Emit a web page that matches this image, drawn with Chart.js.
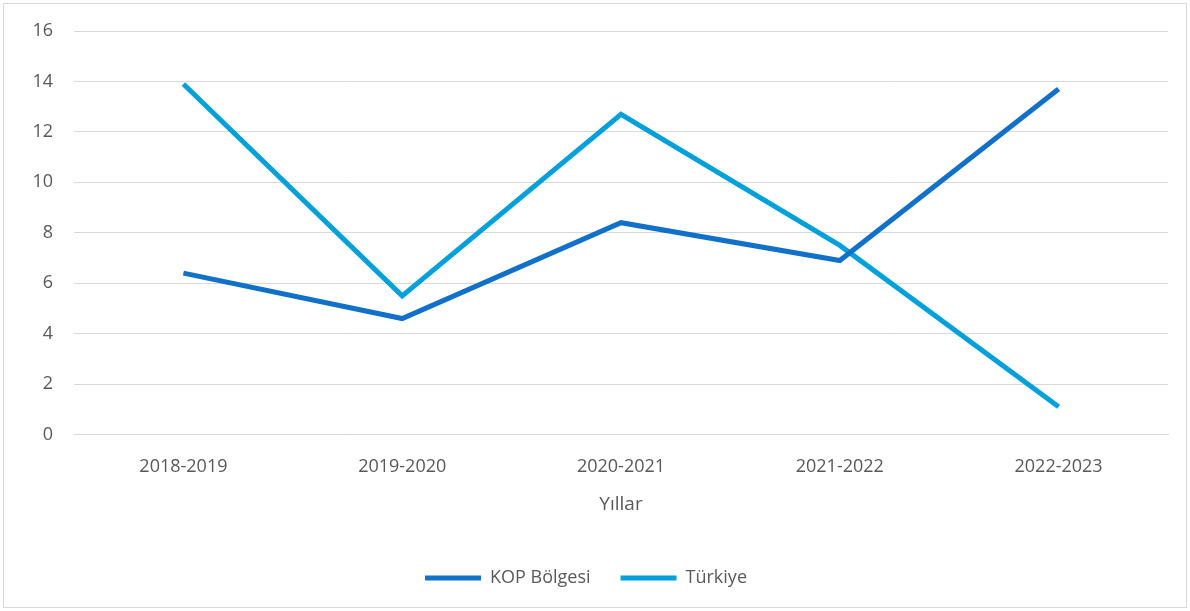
<!DOCTYPE html>
<html>
<head>
<meta charset="utf-8">
<script src="https://cdn.jsdelivr.net/npm/chart.js@4"></script>
<style>
  html, body { margin: 0; padding: 0; background: #fff; }
  #box {
    position: absolute; left: 3px; top: 3px;
    width: 1184px; height: 605px;
    border: 1px solid #d9d9d9; box-sizing: border-box;
  }
</style>
</head>
<body>
<div id="box"><canvas id="lineChart"></canvas></div>
<script>
// chart data
const years = ['2018-2019', '2019-2020', '2020-2021', '2021-2022', '2022-2023'];
const kopValues = [6.4, 4.6, 8.4, 6.9, 13.7];
const turkiyeValues = [13.9, 5.5, 12.7, 7.5, 1.1];
const yTicks = [0, 2, 4, 6, 8, 10, 12, 14, 16];

const textColor = '#595959';
const fontFamily = "'Open Sans', sans-serif";

const ctx = document.getElementById('lineChart').getContext('2d');
new Chart(ctx, {
    type: 'line',
    data: {
        labels: years,
        datasets: [{
            label: 'KOP Bölgesi',
            data: kopValues,
            borderColor: '#1170C8',
            backgroundColor: '#1170C8',
            borderWidth: 5,
            pointRadius: 0,
            tension: 0
        }, {
            label: 'Türkiye',
            data: turkiyeValues,
            borderColor: '#00A0DA',
            backgroundColor: '#00A0DA',
            borderWidth: 5,
            pointRadius: 0,
            tension: 0
        }]
    },
    options: {
        responsive: true,
        maintainAspectRatio: false,
        animation: false,
        layout: { padding: { top: 27, right: 18, bottom: 10, left: 0 } },
        plugins: {
            tooltip: { enabled: false },
            legend: {
                position: 'bottom',
                labels: {
                    color: textColor,
                    font: { family: fontFamily, size: 18 },
                    boxWidth: 56,
                    boxHeight: 5,
                    padding: 30,
                    generateLabels: chart => chart.data.datasets.map((ds, i) => ({
                        text: ds.label,
                        fillStyle: ds.borderColor,
                        strokeStyle: ds.borderColor,
                        lineWidth: 0,
                        fontColor: textColor,
                        datasetIndex: i
                    }))
                }
            }
        },
        scales: {
            x: {
                offset: true,
                grid: { display: false, drawTicks: false },
                border: { display: true, color: '#d9d9d9', width: 1 },
                ticks: {
                    color: textColor,
                    font: { family: fontFamily, size: 18 },
                    padding: 21
                },
                title: {
                    display: true,
                    text: 'Yıllar',
                    color: textColor,
                    font: { family: fontFamily, size: 19 },
                    padding: { top: -5, bottom: 23 }
                }
            },
            y: {
                min: 0,
                max: 16,
                afterBuildTicks: axis => { axis.ticks = yTicks.map(v => ({ value: v })); },
                afterFit: axis => {
                    axis.width = 70;
                    axis.paddingTop = 20; // keep tick padding from pushing the plot down
                },
                grid: { color: '#d9d9d9', lineWidth: 1, drawTicks: false },
                border: { display: false },
                ticks: {
                    color: textColor,
                    font: { family: fontFamily, size: 18 },
                    padding: 21
                }
            }
        }
    }
});
</script>
</body>
</html>
